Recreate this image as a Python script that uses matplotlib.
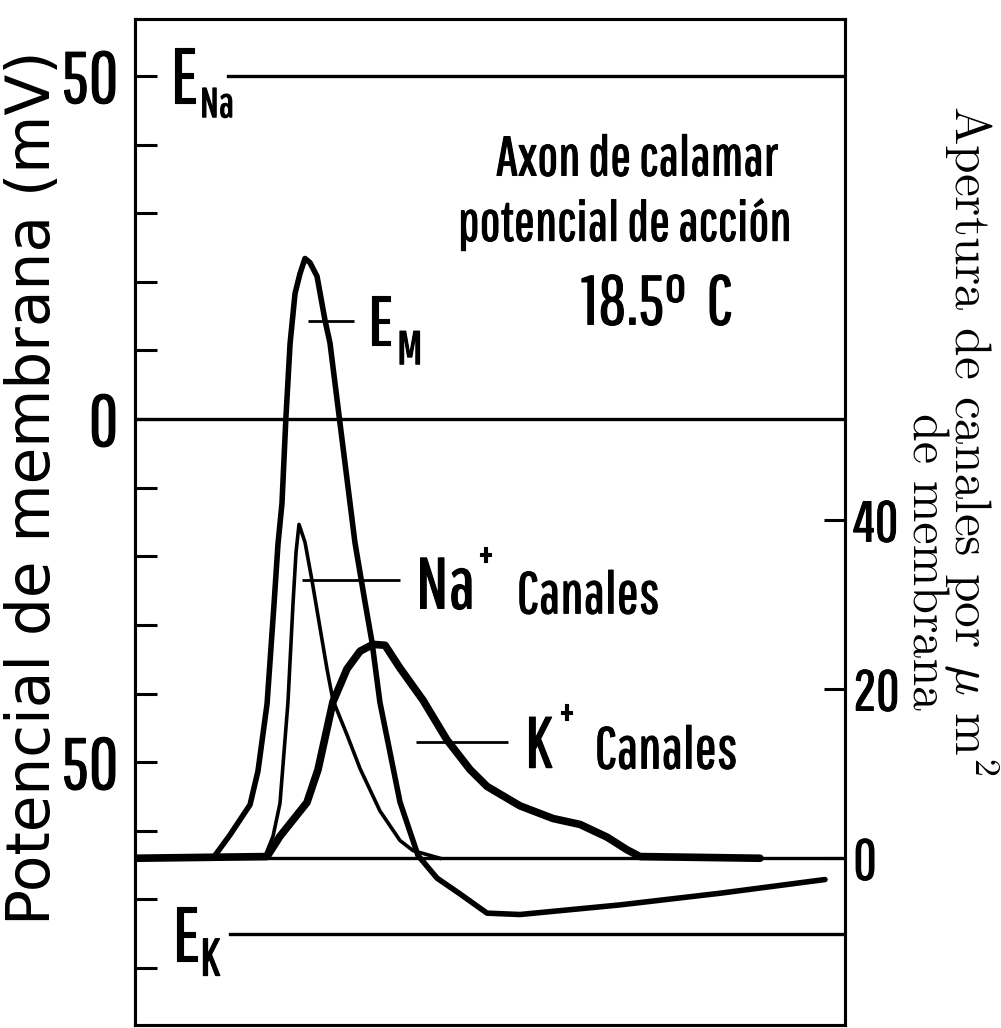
import matplotlib
matplotlib.use("Agg")
import matplotlib.pyplot as plt
from matplotlib import font_manager
import matplotlib.patheffects as pe

# --- data (time in ms, potential in mV, channels per um2) ---
t_em = [0.0, 0.549, 0.669, 0.810, 0.866, 0.930, 0.979, 1.007, 1.035, 1.063, 1.092, 1.127,
        1.162, 1.197, 1.232, 1.282, 1.338, 1.373, 1.437, 1.549, 1.620, 1.669, 1.725, 1.866,
        1.993, 2.127, 2.289, 2.479, 2.711, 3.415, 4.120, 4.859]
v_em = [-64.0, -64.0, -60.6, -56.2, -51.3, -41.5, -27.0, -18.2, -12.3, 0.3, 11.0, 18.3,
        21.2, 23.4, 22.8, 20.8, 14.4, 11.1, 0.5, -18.0, -26.7, -32.5, -41.3, -55.8,
        -63.6, -66.9, -69.2, -72.0, -72.2, -70.8, -69.1, -67.1]

t_na = [0.0, 0.915, 0.972, 1.021, 1.077, 1.113, 1.134, 1.155, 1.197, 1.246, 1.352, 1.394,
        1.493, 1.585, 1.725, 1.866, 1.958, 2.148]
na_open = [0.0, 0.2, 2.6, 6.5, 18.4, 30.2, 36.2, 39.5, 37.4, 32.9, 22.4, 18.7,
           14.6, 10.6, 5.6, 2.1, 0.9, 0.0]

t_k = [0.0, 0.930, 1.021, 1.211, 1.289, 1.394, 1.493, 1.585, 1.676, 1.761, 1.866, 2.028,
       2.197, 2.359, 2.479, 2.711, 2.944, 3.134, 3.324, 3.465, 3.556, 4.401]
k_open = [0.0, 0.2, 2.6, 6.6, 10.5, 18.5, 22.4, 24.5, 25.3, 25.2, 22.5, 18.7,
          14.0, 10.5, 8.5, 6.2, 4.7, 4.0, 2.5, 1.0, 0.2, 0.0]

E_NA = 50
E_K = -75
V_REST = -64

left_ticks = [-50, 0, 50]
left_labels = ["50", "0", "50"]
right_ticks = [0, 20, 40]
right_labels = ["0", "20", "40"]


def pick(cands):
    have = {f.name for f in font_manager.fontManager.ttflist}
    for c in cands:
        if c in have:
            return c
    return "DejaVu Sans"


cond = pick(["Pathway Gothic One", "Roboto Condensed", "Liberation Sans"])
serif = pick(["Latin Modern Roman", "DejaVu Serif"])
plt.rcParams["mathtext.fontset"] = "cm"
bold = [pe.withStroke(linewidth=0.8, foreground="black")]

fig = plt.figure(figsize=(10.01, 10.28), dpi=100)
ax = fig.add_axes([135 / 1001, 3 / 1028, 710 / 1001, 1006 / 1028])

ylo, yhi = -88.3, 58.3
ax.set_xlim(0, 5.0)
ax.set_ylim(ylo, yhi)

# one channel per um2 is 8.45 px, one mV is 6.86 px; 0 channels sits on rest
scale = 6.86 / 8.45
ax2 = ax.twinx()
ax2.set_ylim((ylo - V_REST) * scale, (yhi - V_REST) * scale)

lw_ref = 2.4
ax.axhline(0, color="black", lw=lw_ref)
ax.axhline(V_REST, color="black", lw=lw_ref)
ax.axhline(E_NA, xmin=0.655 / 5.0, color="black", lw=lw_ref)
ax.axhline(E_K, xmin=0.67 / 5.0, color="black", lw=lw_ref)

ax.plot(t_em, v_em, color="black", lw=4.0, solid_joinstyle="round", solid_capstyle="round")
ax2.plot(t_na, na_open, color="black", lw=2.6, solid_joinstyle="round")
ax2.plot(t_k, k_open, color="black", lw=5.5, solid_joinstyle="round", solid_capstyle="round")

# axes styling
for sp in ax.spines.values():
    sp.set_linewidth(2.2)
for sp in ax2.spines.values():
    sp.set_linewidth(2.2)
ax.set_xticks([])
ax.set_yticks(left_ticks)
ax.set_yticklabels(left_labels)
ax.set_yticks(range(-80, 60, 10), minor=True)
ax.tick_params(axis="y", which="both", direction="in", length=16, width=2.2, pad=12,
               labelsize=52)
for lab in ax.get_yticklabels():
    lab.set_family(cond)
    lab.set_path_effects(bold)

ax2.set_yticks(right_ticks)
ax2.set_yticklabels(right_labels)
ax2.tick_params(axis="y", direction="in", length=15, width=2.2, pad=6, labelsize=41)
for lab in ax2.get_yticklabels():
    lab.set_family(cond)
    lab.set_path_effects(bold)

# leader lines
ax.hlines(14.3, 1.218, 1.542, color="black", lw=2.0)
ax.hlines(-23.4, 1.176, 1.866, color="black", lw=2.0)
ax.hlines(-47.0, 1.979, 2.627, color="black", lw=2.0)


def label(x, y, s, size, ha="left"):
    ax.text(x, y, s, family=cond, fontsize=size, ha=ha, va="baseline", path_effects=bold)


# labels inside the plot
label(0.246, 46.1, "E", 56)
label(0.458, 44.0, "Na", 30)
label(0.26, -79.0, "E", 56)
label(0.458, -81.1, "K", 38)
label(1.641, 10.8, "E", 50)
label(1.845, 8.0, "M", 34)

label(1.979, -27.6, "Na", 52)
label(2.41, -22.0, "+", 32)
label(2.69, -28.3, "Canales", 42)
label(2.746, -50.8, "K", 52)
label(2.98, -45.0, "+", 32)
label(3.239, -50.9, "Canales", 42)

label(3.535, 35.5, "Axon de calamar", 40, ha="center")
label(3.45, 26.0, "potencial de acción", 40, ha="center")
label(3.676, 13.8, "18.5°  C", 50, ha="center")

# axis titles
fig.text(34 / 1001, 1 - 488 / 1028, "Potencial de membrana (mV)", family="DejaVu Sans",
         fontsize=43, rotation=90, ha="center", va="center")
fig.text(971 / 1001, 1 - 440 / 1028, "Apertura de canales por $\\mu$ m$^2$", family=serif,
         fontsize=37, rotation=-90, ha="center", va="center")
fig.text(925 / 1001, 1 - 562 / 1028, "de membrana", family=serif,
         fontsize=36, rotation=-90, ha="center", va="center")

fig.savefig("out.png", dpi=100)
